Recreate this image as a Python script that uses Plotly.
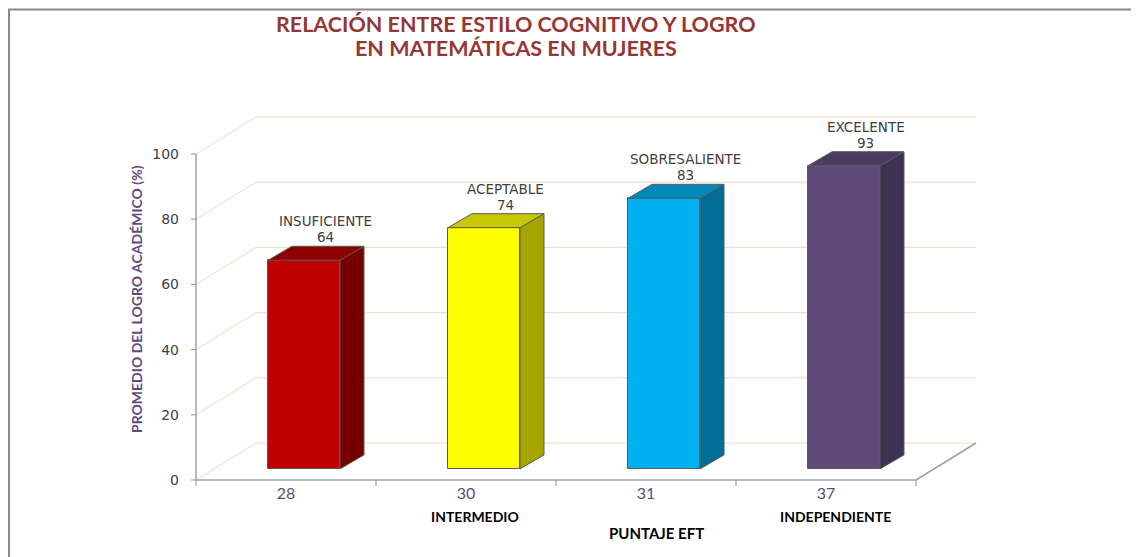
import plotly.graph_objects as go

# ---------------- data ----------------
puntaje_eft = ["28", "30", "31", "37"]
niveles = ["INSUFICIENTE", "ACEPTABLE", "SOBRESALIENTE", "EXCELENTE"]
promedio_logro = [64, 74, 83, 93]
estilo_labels = ["", "INTERMEDIO", "", "INDEPENDIENTE"]
y_ticks = [0, 20, 40, 60, 80, 100]
title_lines = ["RELACIÓN ENTRE ESTILO COGNITIVO Y LOGRO", "EN MATEMÁTICAS EN MUJERES"]

front_colors = ["#C00000", "#FFFF00", "#00B0F0", "#604A7B"]
top_colors = ["#8E0000", "#C8C800", "#0088BB", "#4B3A61"]
side_colors = ["#760000", "#A5A500", "#006E96", "#3E3152"]

# ---------------- geometry ----------------
W, H = 1139, 557
OFS = 8                       # page body margin
L, T = 192 - OFS, 114 - OFS
R = W - (981 - OFS)
B = H - (482 - OFS)
PW, PH = W - L - R, H - T - B
PX_X = 180.0      # pixels per category
PX_Y = 3.26       # pixels per value unit
xmin = -0.5 - 4 / PX_X
xmax = xmin + PW / PX_X
ymin = -2 / PX_Y
ymax = ymin + PH / PX_Y

DX = 60 / PX_X          # full depth of the 3-D box
DY = 37 / PX_Y
OFF_X, OFF_Y = 0.3 * DX, 0.3 * DY   # bar front plane offset
BDX, BDY = 24 / PX_X, 14 / PX_Y     # bar depth
HW = 0.2                            # bar half width

n = len(promedio_logro)
xs = list(range(n))


def sx_paper(px):
    """screen pixel x -> paper x"""
    return (px - OFS - L) / PW


def sy_paper(py):
    """screen pixel y -> paper y"""
    return (T + PH - (py - OFS)) / PH


fig = go.Figure()

# bars: front face
fig.add_trace(go.Bar(
    x=xs, y=promedio_logro, width=2 * HW,
    marker=dict(color=front_colors, line=dict(color="#5A5A5A", width=1)),
    xaxis="x2", yaxis="y2", hoverinfo="skip", showlegend=False,
))

# bars: side and top faces
for i, v in enumerate(promedio_logro):
    px_ = [i + HW, i + HW + BDX, i + HW + BDX, i + HW, i + HW]
    py_ = [0, BDY, v + BDY, v, 0]
    fig.add_trace(go.Scatter(
        x=px_, y=py_, mode="lines", fill="toself", fillcolor=side_colors[i],
        line=dict(color="#5A5A5A", width=1), xaxis="x2", yaxis="y2",
        hoverinfo="skip", showlegend=False))
    tx = [i - HW, i - HW + BDX, i + HW + BDX, i + HW, i - HW]
    ty = [v, v + BDY, v + BDY, v, v]
    fig.add_trace(go.Scatter(
        x=tx, y=ty, mode="lines", fill="toself", fillcolor=top_colors[i],
        line=dict(color="#5A5A5A", width=1), xaxis="x2", yaxis="y2",
        hoverinfo="skip", showlegend=False))

# data labels (value line and category line)
lab_font = dict(family="DejaVu Sans", size=13.5, color="#404040")
for i, v in enumerate(promedio_logro):
    fig.add_annotation(x=i + 0.12, y=v + BDY, xref="x2", yref="y2",
                       text=str(v), showarrow=False, yanchor="bottom",
                       yshift=-1, font=lab_font)
    fig.add_annotation(x=i + 0.12, y=v + BDY, xref="x2", yref="y2",
                       text=niveles[i], showarrow=False, yanchor="bottom",
                       yshift=15, font=lab_font)

# ---------------- 3-D frame ----------------
shapes = []
grid_col = "#F8D6BC"
for t in y_ticks:
    shapes.append(dict(type="line", xref="x", yref="y", layer="below",
                       x0=-0.5, y0=t, x1=-0.5 + DX, y1=t + DY,
                       line=dict(color=grid_col, width=1)))
    shapes.append(dict(type="line", xref="x", yref="y", layer="below",
                       x0=-0.5 + DX, y0=t + DY, x1=n - 0.5 + DX, y1=t + DY,
                       line=dict(color=grid_col, width=1)))
    # y tick marks
    shapes.append(dict(type="line", xref="paper", yref="y", layer="below",
                       x0=sx_paper(191), x1=sx_paper(196), y0=t, y1=t,
                       line=dict(color="#A0A0A0", width=1.2)))
# y axis line
shapes.append(dict(type="line", xref="x", yref="y", layer="below",
                   x0=-0.5, y0=0, x1=-0.5, y1=y_ticks[-1],
                   line=dict(color="#A0A0A0", width=1.5)))
# floor front edge and right edge
shapes.append(dict(type="line", xref="x", yref="y", layer="below",
                   x0=-0.5, y0=0, x1=n - 0.5, y1=0,
                   line=dict(color="#A0A0A0", width=1.5)))
shapes.append(dict(type="line", xref="x", yref="y", layer="below",
                   x0=n - 0.5, y0=0, x1=n - 0.5 + DX, y1=DY,
                   line=dict(color="#A0A0A0", width=1.5)))
# x tick marks at category boundaries
for k in range(n + 1):
    shapes.append(dict(type="line", xref="x", yref="paper", layer="below",
                       x0=k - 0.5, x1=k - 0.5,
                       y0=sy_paper(480), y1=sy_paper(486),
                       line=dict(color="#A0A0A0", width=1.2)))
# outer border (top and left)
shapes.append(dict(type="line", xref="paper", yref="paper",
                   x0=sx_paper(8), x1=sx_paper(W + 10),
                   y0=sy_paper(9.5), y1=sy_paper(9.5),
                   line=dict(color="#888888", width=2)))
shapes.append(dict(type="line", xref="paper", yref="paper",
                   x0=sx_paper(9), x1=sx_paper(9),
                   y0=sy_paper(9), y1=sy_paper(H + 10),
                   line=dict(color="#888888", width=2)))

# ---------------- texts ----------------
for k, (line, yc) in enumerate(zip(title_lines, [24, 48])):
    fig.add_annotation(x=sx_paper(516), y=sy_paper(yc), xref="paper", yref="paper",
                       text=f"<b>{line}</b>", showarrow=False,
                       xanchor="center", yanchor="middle",
                       font=dict(family="Lato", size=21.5, color="#953735"))

for i, s in enumerate(estilo_labels):
    if s:
        fig.add_annotation(x=i + 0.05, y=sy_paper(516), xref="x", yref="paper",
                           text=f"<b>{s}</b>", showarrow=False,
                           xanchor="center", yanchor="middle",
                           font=dict(family="Lato", size=14, color="#000000"))
fig.add_annotation(x=2.06, y=sy_paper(533), xref="x", yref="paper",
                   text="<b>PUNTAJE EFT</b>", showarrow=False,
                   xanchor="center", yanchor="middle",
                   font=dict(family="Lato", size=15, color="#000000"))
fig.add_annotation(x=sx_paper(136), y=sy_paper(299), xref="paper", yref="paper",
                   text="<b>PROMEDIO DEL LOGRO ACADÉMICO (%)</b>",
                   textangle=-90, showarrow=False,
                   xanchor="center", yanchor="middle",
                   font=dict(family="Lato", size=14, color="#604A7B"))

fig.update_layout(
    width=W, height=H,
    margin=dict(l=L, r=R, t=T, b=B, autoexpand=False),
    paper_bgcolor="white", plot_bgcolor="white",
    xaxis=dict(range=[xmin, xmax], tickvals=xs, ticktext=puntaje_eft,
               showgrid=False, zeroline=False, showline=False, ticks="",
               tickfont=dict(family="Lato", size=16, color="#604A7B")),
    yaxis=dict(range=[ymin, ymax], tickvals=y_ticks,
               showgrid=False, zeroline=False, showline=False,
               ticks="", ticklabelstandoff=12,
               tickfont=dict(family="DejaVu Sans", size=14, color="#404040")),
    xaxis2=dict(range=[xmin - OFF_X, xmax - OFF_X], overlaying="x",
                anchor="y2", visible=False),
    yaxis2=dict(range=[ymin - OFF_Y, ymax - OFF_Y], overlaying="y",
                anchor="x2", visible=False),
    shapes=shapes,
    showlegend=False,
    bargap=0,
)

fig.write_html("out.html")
